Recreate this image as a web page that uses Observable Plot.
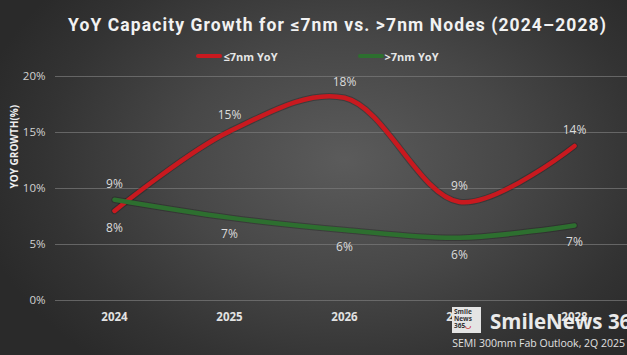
<!DOCTYPE html>
<html>
<head>
<meta charset="utf-8">
<script src="https://cdn.jsdelivr.net/npm/d3@7"></script>
<script src="https://cdn.jsdelivr.net/npm/@observablehq/plot@0.6"></script>
<style>
  html, body { margin: 0; padding: 0; }
  body { width: 627px; height: 355px; overflow: hidden; }
  #wrap {
    position: relative; width: 627px; height: 355px; overflow: hidden;
    background: radial-gradient(ellipse 60% 75% at 55% 45%, #5b5b5b 0%, #474747 45%, #333 80%, #2a2a2a 100%);
    font-family: Roboto, "Noto Sans", sans-serif;
  }
  #title {
    position: absolute; top: 15px; left: 0; width: 627px; padding-left: 48px; box-sizing: border-box;
    text-align: center; color: #f2f2f2; font-weight: bold; font-size: 17.5px; letter-spacing: 1.1px;
    font-family: Roboto, sans-serif;
  }
  #legend {
    position: absolute; top: 46px; left: 0; width: 627px; text-align: center; padding-left: 8px; box-sizing: border-box;
    color: #e6e6e6; font-size: 11px; font-weight: bold; font-family: "Open Sans", sans-serif;
  }
  #legend span.item { display: inline-flex; align-items: center; margin: 0 40px; }
  #legend span.sw { display: inline-block; width: 26px; height: 4px; border-radius: 2px; margin-right: 1px; }
  #chart { position: absolute; top: 60px; left: 0; }
  #logo {
    position: absolute; left: 452px; top: 307px; width: 29px; height: 26px; background: #e4e4e4;
    color: #333; font-size: 6.5px; line-height: 7px; font-weight: bold; padding: 1px 2px; box-sizing: border-box;
    font-family: "Open Sans", sans-serif;
  }
  #logo b { color: #c22; }
  #brand {
    position: absolute; left: 490px; top: 307px; color: #f4f4f4; font-weight: bold; font-size: 20.5px;
    white-space: nowrap; font-family: "Open Sans", sans-serif; opacity: 0.95;
  }
  #caption {
    position: absolute; right: 2px; top: 336px; color: #e0e0e0; font-size: 10.5px;
    font-family: "Open Sans", sans-serif; white-space: nowrap;
  }
</style>
</head>
<body>
<div id="wrap">
  <div id="title"></div>
  <div id="legend"></div>
  <div id="chart"></div>
  <div id="logo">Smile<br>News<br>365<b>◡</b></div>
  <div id="brand">SmileNews 365</div>
  <div id="caption"></div>
</div>
<script>
const years = ["2024", "2025", "2026", "2027", "2028"];
const le7nm = [8.0, 15.1, 18.1, 8.8, 13.8];
const gt7nm = [9.0, 7.4, 6.3, 5.6, 6.7];
const seriesNames = ["≤7nm YoY", ">7nm YoY"];
const seriesColors = ["#c9191f", "#2d6f2f"];
const yTicks = [0, 5, 10, 15, 20];
const titleText = "YoY Capacity Growth for ≤7nm vs. >7nm Nodes (2024–2028)";
const yLabel = "YOY GROWTH(%)";
const captionText = "SEMI 300mm Fab Outlook,  2Q 2025";

document.getElementById("title").textContent = titleText;
document.getElementById("caption").textContent = captionText;
document.getElementById("legend").innerHTML = seriesNames.map((n, i) =>
  `<span class="item"><span class="sw" style="background:${seriesColors[i]}"></span>${n}</span>`).join("");

const allSeries = [le7nm, gt7nm];
const rows = [];
allSeries.forEach((vals, s) => vals.forEach((v, i) => {
  const other = allSeries[1 - s][i];
  rows.push({year: years[i], value: v, series: seriesNames[s], above: v >= other});
}));

const chart = Plot.plot({
  width: 627,
  height: 275,
  marginLeft: 55,
  marginRight: 0,
  marginTop: 16,
  marginBottom: 35,
  style: {background: "transparent", overflow: "visible"},
  x: {type: "point", domain: years, range: [113, 575], padding: 0},
  y: {domain: [0, 20], range: [240, 16]},
  color: {domain: seriesNames, range: seriesColors},
  marks: [
    Plot.ruleY(yTicks, {stroke: "#7a7a7a", strokeWidth: 1, strokeOpacity: 0.7}),
    Plot.axisY({ticks: yTicks, tickSize: 0, tickPadding: 10, tickFormat: d => d + "%", label: null,
      fill: "#d2d2d2", fontSize: 11.5, fontFamily: "Open Sans, sans-serif"}),
    Plot.axisX({tickSize: 0, tickPadding: 12, label: null, fill: "#e2e2e2", fontSize: 11.5,
      fontWeight: "bold", fontFamily: "Open Sans, sans-serif"}),
    Plot.text([yLabel], {frameAnchor: "left", dx: -41, rotate: -90, fill: "#eeeeee", fontSize: 10,
      fontWeight: "bold", fontFamily: "Open Sans, sans-serif"}),
    Plot.line(rows, {x: "year", y: "value", z: "series", stroke: "#1a1a1a", strokeWidth: 6.5,
      strokeOpacity: 0.35, curve: "catmull-rom"}),
    Plot.line(rows, {x: "year", y: "value", z: "series", stroke: "series", strokeWidth: 4.5,
      curve: "catmull-rom"}),
    Plot.text(rows.filter(d => d.above), {x: "year", y: "value", text: d => Math.round(d.value) + "%",
      dy: -16, fill: "#dcdcdc", fontSize: 12, fontFamily: "Open Sans, sans-serif"}),
    Plot.text(rows.filter(d => !d.above), {x: "year", y: "value", text: d => Math.round(d.value) + "%",
      dy: 17, fill: "#dcdcdc", fontSize: 12, fontFamily: "Open Sans, sans-serif"})
  ]
});
document.getElementById("chart").appendChild(chart);
</script>
</body>
</html>
